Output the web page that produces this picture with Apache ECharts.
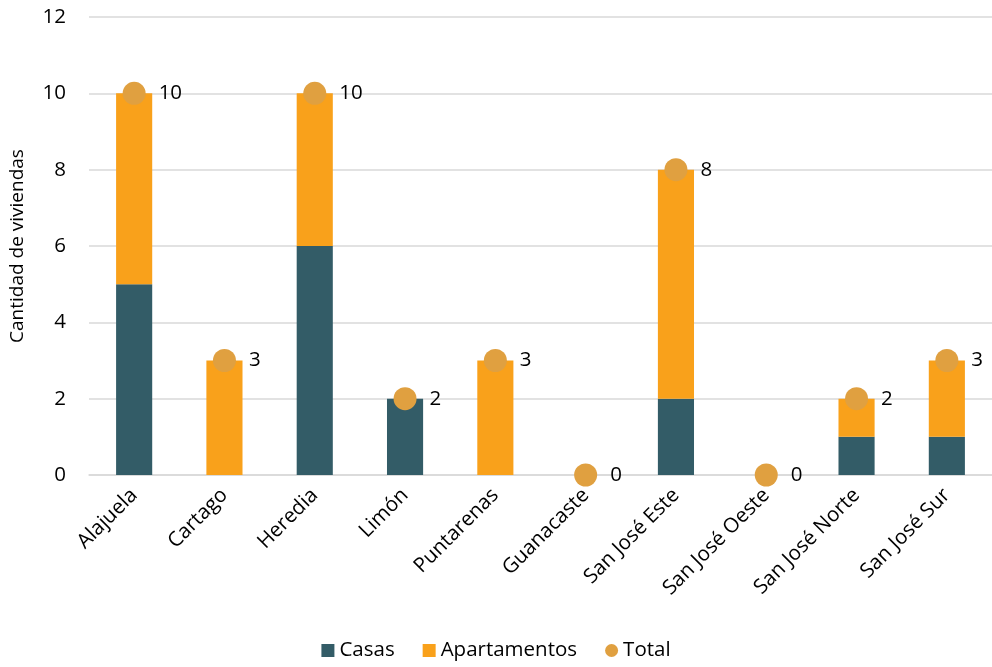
<!DOCTYPE html>
<html><head><meta charset="utf-8">
<script src="https://cdn.jsdelivr.net/npm/echarts@6/dist/echarts.min.js"></script>
<style>html,body{margin:0;padding:0;background:#fff}#c{width:992px;height:667px}</style>
</head><body><div id="c"></div>
<script>
const categories = ['Alajuela','Cartago','Heredia','Limón','Puntarenas','Guanacaste','San José Este','San José Oeste','San José Norte','San José Sur'];
const casas = [5,0,6,2,0,0,2,0,1,1];
const apartamentos = [5,3,4,0,3,0,6,0,1,2];
const total = [10,3,10,2,3,0,8,0,2,3];
const yTicks = [0,2,4,6,8,10,12];

const FONT = 'Open Sans';
const chart = echarts.init(document.getElementById('c'), null, {renderer:'canvas'});
chart.setOption({
  animation:false,
  textStyle:{fontFamily:FONT},
  grid:{left:85, top:17, width:915, height:458, containLabel:false},
  legend:{
    bottom:1, left:'center', itemWidth:13, itemHeight:13, itemGap:28,
    textStyle:{fontSize:20.5, color:'#000', fontFamily:FONT},
    data:[{name:'Casas',icon:'rect'},{name:'Apartamentos',icon:'rect'},{name:'Total',icon:'circle'}]
  },
  xAxis:{
    type:'category', data:categories,
    axisLine:{lineStyle:{color:'#d9d9d9', width:1.5}},
    axisTick:{show:false},
    axisLabel:{rotate:45, fontSize:20.5, color:'#000', margin:17, interval:0}
  },
  yAxis:{
    type:'value', min:0, max:12, interval:2,
    name:'Cantidad de viviendas', nameLocation:'middle', nameGap:62,
    nameTextStyle:{fontSize:19, color:'#000'},
    splitLine:{lineStyle:{color:'#d9d9d9', width:1.5}},
    axisLine:{show:false}, axisTick:{show:false},
    axisLabel:{fontSize:20.5, color:'#000', margin:23, formatter:v=>yTicks.includes(v)?String(v):''}
  },
  series:[
    {name:'Casas', type:'bar', stack:'s', data:casas, barWidth:'40%', itemStyle:{color:'#335C67'}},
    {name:'Apartamentos', type:'bar', stack:'s', data:apartamentos, barWidth:'40%', itemStyle:{color:'#F9A11B'}},
    {name:'Total', type:'scatter', data:total, symbolSize:23, itemStyle:{color:'#E0A040', opacity:1}, z:5,
     label:{show:true, position:'right', distance:13, fontSize:20.5, color:'#000'}}
  ]
});
</script></body></html>
